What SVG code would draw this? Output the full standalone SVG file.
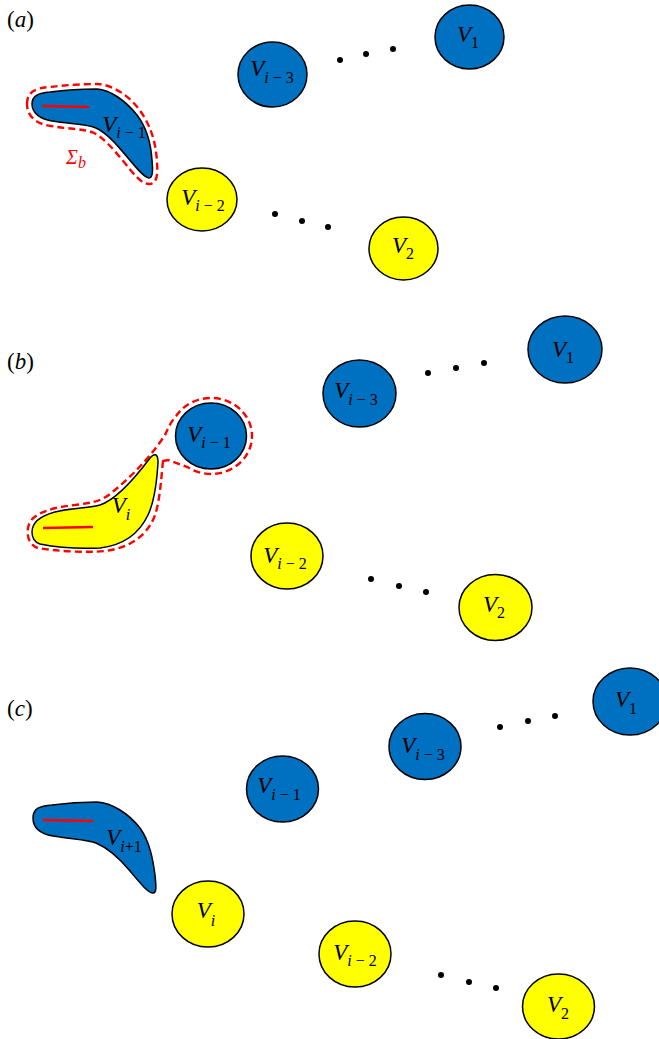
<svg xmlns="http://www.w3.org/2000/svg" width="659" height="1039" viewBox="0 0 659 1039">
<style>
.blue{fill:#0070C0;stroke:#000;stroke-width:1.5}
.yel{fill:#FFFF00;stroke:#000;stroke-width:1.5}
.dash{fill:none;stroke:#FF0000;stroke-width:2.4;stroke-dasharray:7,4}
.rl{stroke:#FF0000;stroke-width:2.5}
.lab{font-family:"Liberation Serif","Times New Roman",serif;font-size:23px;fill:#000;text-anchor:middle}
.v{font-style:italic}
.si{font-style:italic;font-size:16px}
.sr{font-size:16px;font-style:normal}
.pl{font-family:"Liberation Serif","Times New Roman",serif;font-size:23px;fill:#000}
.dot{fill:#000}
</style>
<g id="panel-labels">
<text class="pl" x="7" y="27">(<tspan font-style="italic">a</tspan>)</text>
<text class="pl" x="7" y="369">(<tspan font-style="italic">b</tspan>)</text>
<text class="pl" x="7" y="716">(<tspan font-style="italic">c</tspan>)</text>
</g>
<!-- Panel a -->
<g id="a-boundary">
<path class="dash" d="M 27,104 C 27,92 35,88 50,87 C 65,85 85,84 98,84 C 113,85 130,96 141,112 C 152,128 156,145 157,162 C 158,175 157,184 149,184 C 142,184 135,176 124,162 C 114,150 104,138 94,133 C 86,129 68,129 51,126 C 36,124 27,116 27,104 Z"/>
<text class="lab" x="76" y="164" style="fill:#FF0000"><tspan class="v" font-size="20">Σ</tspan><tspan class="si" dy="4">b</tspan></text>
</g>
<g id="a-Vim1">
<path class="blue" d="M 32,104 C 32,96 38,93 50,92 C 65,90 85,89 97,89 C 110,90 125,100 137,115 C 147,128 151,145 152,160 C 153,170 153,178 149,178 C 145,178 138,170 128,158 C 118,146 107,133 96,128 C 88,124 70,124 52,121 C 40,119 32,113 32,104 Z"/>
<line class="rl" x1="42" y1="106" x2="89" y2="107"/>
<text class="lab" x="124" y="132"><tspan class="v">V</tspan><tspan class="si" dy="6">i</tspan><tspan class="sr"> − 1</tspan></text>
</g>
<g id="a-Vim3">
<ellipse class="blue" cx="272.5" cy="74.5" rx="34.5" ry="32.5"/>
<text class="lab" x="272" y="76"><tspan class="v">V</tspan><tspan class="si" dy="7">i</tspan><tspan class="sr"> − 3</tspan></text>
</g>
<g id="a-V1">
<ellipse class="blue" cx="469.5" cy="37" rx="34.5" ry="32"/>
<text class="lab" x="468" y="42"><tspan class="v">V</tspan><tspan class="sr" dy="6">1</tspan></text>
</g>
<g id="a-Vim2">
<ellipse class="yel" cx="202" cy="199.5" rx="35" ry="31.5"/>
<text class="lab" x="203" y="205"><tspan class="v">V</tspan><tspan class="si" dy="6">i</tspan><tspan class="sr"> − 2</tspan></text>
</g>
<g id="a-V2">
<ellipse class="yel" cx="403.5" cy="248.5" rx="34.5" ry="31.5"/>
<text class="lab" x="403" y="253"><tspan class="v">V</tspan><tspan class="sr" dy="6">2</tspan></text>
</g>
<g id="a-dots">
<circle class="dot" cx="340" cy="60" r="3"/><circle class="dot" cx="366" cy="54" r="3"/><circle class="dot" cx="393" cy="49" r="3"/>
<circle class="dot" cx="275" cy="214" r="3"/><circle class="dot" cx="302" cy="221" r="3"/><circle class="dot" cx="328" cy="227" r="3"/>
</g>
<!-- Panel b -->
<g id="b-boundary">
<path class="dash" d="M 163,461 C 161,480 160,500 155,515 C 148,535 130,548 105,551 C 85,553 55,551 38,548 C 28,545 25,532 30,522 C 36,512 55,507 75,505 C 90,503 100,502 110,494 C 130,478 150,458 165,435 C 168,428 172,420 176.6,415.3 A 41,38 0 1 1 187.5,467.1 L 168,460 Z"/>
</g>
<g id="b-Vim1">
<ellipse class="blue" cx="211" cy="436" rx="35.5" ry="33"/>
<text class="lab" x="209" y="442"><tspan class="v">V</tspan><tspan class="si" dy="6">i</tspan><tspan class="sr"> − 1</tspan></text>
</g>
<g id="b-Vi">
<path class="yel" d="M 32,532 C 32,522 40,516 55,512 C 70,508 90,508 100,505 C 115,500 135,478 150,458 C 154,453 158,453 158,462 C 157,480 155,500 148,515 C 140,532 125,545 100,548 C 80,549 55,547 40,544 C 34,542 32,538 32,532 Z"/>
<line class="rl" x1="43" y1="528" x2="93" y2="527"/>
<text class="lab" x="121" y="513"><tspan class="v">V</tspan><tspan class="si" dy="7">i</tspan></text>
</g>
<g id="b-Vim3">
<ellipse class="blue" cx="359.5" cy="393.5" rx="36.5" ry="33.5"/>
<text class="lab" x="356" y="398"><tspan class="v">V</tspan><tspan class="si" dy="7">i</tspan><tspan class="sr"> − 3</tspan></text>
</g>
<g id="b-V1">
<ellipse class="blue" cx="565" cy="349.5" rx="37" ry="33.5"/>
<text class="lab" x="563" y="357"><tspan class="v">V</tspan><tspan class="sr" dy="6">1</tspan></text>
</g>
<g id="b-Vim2">
<ellipse class="yel" cx="287" cy="556" rx="36" ry="33"/>
<text class="lab" x="285" y="563"><tspan class="v">V</tspan><tspan class="si" dy="6">i</tspan><tspan class="sr"> − 2</tspan></text>
</g>
<g id="b-V2">
<ellipse class="yel" cx="495.5" cy="607.5" rx="36.5" ry="33"/>
<text class="lab" x="494" y="612"><tspan class="v">V</tspan><tspan class="sr" dy="6">2</tspan></text>
</g>
<g id="b-dots">
<circle class="dot" cx="428" cy="373" r="3"/><circle class="dot" cx="456" cy="368" r="3"/><circle class="dot" cx="484" cy="363" r="3"/>
<circle class="dot" cx="371" cy="579" r="3"/><circle class="dot" cx="399" cy="586" r="3"/><circle class="dot" cx="426" cy="592" r="3"/>
</g>
<!-- Panel c -->
<g id="c-Vip1">
<path class="blue" d="M 33,818 C 33,808 40,806 52,805 C 67,803 85,802 97,802 C 112,803 128,813 140,828 C 150,842 153,860 155,875 C 156,885 157,893 153,893 C 148,893 140,883 130,871 C 120,859 108,848 96,843 C 88,840 70,839 53,836 C 41,834 33,828 33,818 Z"/>
<line class="rl" x1="43" y1="820" x2="93" y2="821"/>
<text class="lab" x="124" y="845"><tspan class="v">V</tspan><tspan class="si" dy="7">i</tspan><tspan class="sr">+1</tspan></text>
</g>
<g id="c-Vim1">
<ellipse class="blue" cx="282.5" cy="789" rx="36" ry="33"/>
<text class="lab" x="279" y="793"><tspan class="v">V</tspan><tspan class="si" dy="7">i</tspan><tspan class="sr"> − 1</tspan></text>
</g>
<g id="c-Vim3">
<ellipse class="blue" cx="425" cy="746.5" rx="36" ry="33"/>
<text class="lab" x="423" y="753"><tspan class="v">V</tspan><tspan class="si" dy="7">i</tspan><tspan class="sr"> − 3</tspan></text>
</g>
<g id="c-V1">
<ellipse class="blue" cx="630" cy="701.5" rx="37" ry="33.5"/>
<text class="lab" x="626" y="707"><tspan class="v">V</tspan><tspan class="sr" dy="7">1</tspan></text>
</g>
<g id="c-Vi">
<ellipse class="yel" cx="208" cy="914" rx="36" ry="33"/>
<text class="lab" x="206" y="918"><tspan class="v">V</tspan><tspan class="si" dy="8">i</tspan></text>
</g>
<g id="c-Vim2">
<ellipse class="yel" cx="355" cy="954" rx="36" ry="33"/>
<text class="lab" x="355" y="960"><tspan class="v">V</tspan><tspan class="si" dy="6">i</tspan><tspan class="sr"> − 2</tspan></text>
</g>
<g id="c-V2">
<ellipse class="yel" cx="558.5" cy="1006.5" rx="36" ry="32.5"/>
<text class="lab" x="558" y="1012"><tspan class="v">V</tspan><tspan class="sr" dy="7">2</tspan></text>
</g>
<g id="c-dots">
<circle class="dot" cx="500" cy="727" r="3"/><circle class="dot" cx="528" cy="721" r="3"/><circle class="dot" cx="555" cy="716" r="3"/>
<circle class="dot" cx="441" cy="975" r="3"/><circle class="dot" cx="469" cy="982" r="3"/><circle class="dot" cx="496" cy="988" r="3"/>
</g>
<g id="connectors"/>
</svg>
